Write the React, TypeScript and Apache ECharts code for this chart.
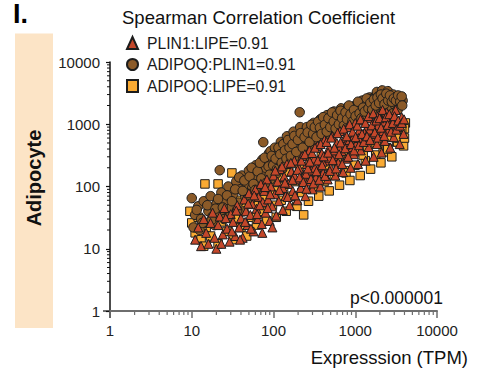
import React, { useEffect, useRef } from 'react';
import * as echarts from 'echarts';

const FONT = "'Liberation Sans', Arial, Helvetica, sans-serif";

const panelLabel = 'I.';
const rowLabel = 'Adipocyte';
const legendTitle = 'Spearman Correlation Coefficient';
const seriesNames = ['PLIN1:LIPE=0.91', 'ADIPOQ:PLIN1=0.91', 'ADIPOQ:LIPE=0.91'];
const seriesColors = ['#c4472a', '#8b5a28', '#f9aa33'];
const pValueText = 'p<0.000001';
const xAxisTitle = 'Expresssion (TPM)';
const axisMin = 1;
const axisMax = 10000;

// PLIN1 vs LIPE (triangles)
const plin1Lipe: number[][] = [
  [11, 14], [12, 22], [13, 11], [14, 30], [15, 18], [16, 12], [17, 26], [18, 38], [19, 15], [20, 10],
  [21, 24], [22, 33], [24, 17], [25, 45], [27, 21], [29, 13], [30, 36], [32, 27], [34, 16], [36, 50],
  [38, 22], [40, 31], [42, 15], [44, 62], [46, 40], [48, 24], [50, 78], [52, 35], [55, 52], [57, 19],
  [60, 90], [62, 44], [64, 30], [66, 68], [70, 110], [72, 25], [74, 56], [77, 85], [80, 38], [83, 130],
  [86, 62], [90, 28], [93, 100], [96, 48], [100, 150], [104, 75], [108, 34], [112, 120], [116, 58], [120, 190],
  [125, 90], [130, 42], [135, 145], [140, 70], [146, 230], [152, 110], [158, 50], [165, 175], [172, 85], [180, 260],
  [188, 130], [196, 60], [205, 200], [215, 95], [225, 310], [235, 150], [245, 70], [255, 230], [265, 120], [275, 380],
  [290, 180], [300, 90], [315, 280], [330, 140], [345, 450], [360, 210], [375, 100], [390, 340], [405, 165], [420, 560],
  [440, 260], [460, 130], [480, 420], [500, 200], [520, 650], [545, 310], [570, 150], [595, 500], [620, 240], [650, 780],
  [680, 370], [710, 170], [740, 600], [770, 280], [800, 900], [840, 430], [880, 200], [920, 700], [960, 330], [1000, 1050],
  [1040, 500], [1080, 230], [1120, 800], [1170, 380], [1220, 1150], [1280, 560], [1340, 260], [1400, 900], [1460, 430], [1530, 1250],
  [1600, 640], [1680, 300], [1760, 1000], [1840, 480], [1920, 1400], [2010, 720], [2100, 350], [2200, 1100], [2300, 540], [2420, 1550],
  [2550, 800], [2680, 420], [2820, 1200], [2960, 620], [3120, 1700], [3300, 900], [3500, 480], [3700, 1300], [3900, 700],
  [130, 95], [180, 150], [250, 160], [320, 200], [400, 250], [480, 290], [560, 380], [650, 420], [760, 470], [850, 560],
  [950, 620], [1100, 600], [1300, 720], [1500, 820], [1700, 700], [1900, 950], [2200, 780], [2600, 980],
  [105, 180], [118, 88], [127, 210], [138, 115], [149, 68], [163, 240], [171, 128], [183, 72], [197, 185], [208, 140],
  [219, 260], [231, 118], [242, 330], [253, 92], [263, 195], [278, 250], [287, 132], [297, 345], [308, 112], [322, 420],
  [336, 176], [349, 262], [363, 128], [378, 480], [393, 220], [411, 305], [427, 148], [446, 520], [465, 350], [488, 178],
  [507, 610], [531, 265], [556, 420], [583, 195], [607, 720], [634, 330], [662, 510], [693, 230], [722, 850], [754, 410],
  [786, 640], [818, 300], [853, 1000], [889, 480], [928, 760], [967, 380], [1010, 620], [1060, 950], [1110, 460], [1160, 1200],
  [1210, 700], [1270, 520], [1330, 1050], [1390, 640], [1450, 1350], [1520, 560], [1590, 960], [1660, 1500], [1730, 740], [1810, 1150],
  [1890, 610], [1980, 1250], [2070, 880], [2160, 1700], [2260, 650], [2370, 1300], [2490, 980], [2610, 1450], [2740, 760], [2880, 1050],
  [3020, 1350], [3180, 820], [3350, 1150], [3530, 950], [3720, 1050], [3950, 1200],
  [23, 12], [26, 31], [31, 19], [35, 41], [39, 14], [45, 27], [49, 53], [53, 21], [58, 72], [63, 36],
  [68, 50], [73, 18], [79, 98], [85, 45], [91, 75], [97, 22],
];

// ADIPOQ vs PLIN1 (circles)
const adipoqPlin1: number[][] = [
  [10, 65], [10.5, 22], [11, 35], [12, 48], [12.5, 20], [13, 30], [14, 58], [15, 26], [16, 40], [17, 70],
  [18, 33], [19, 24], [20, 52], [22, 183], [22, 38], [23, 80], [25, 30], [26, 60], [28, 100], [30, 45],
  [32, 75], [35, 120], [37, 55], [39, 90], [41, 150], [43, 40], [45, 70], [47, 110], [50, 180], [52, 60],
  [55, 95], [58, 140], [61, 220], [63, 80], [66, 120], [70, 180], [73, 270], [75, 515], [76, 100], [80, 160],
  [84, 240], [88, 340], [92, 370], [92, 130], [96, 200], [100, 300], [104, 420], [108, 160], [113, 250], [118, 360],
  [123, 520], [128, 190], [134, 300], [140, 440], [146, 640], [152, 230], [160, 360], [168, 530], [176, 760], [184, 280],
  [193, 430], [202, 640], [209, 1560], [212, 900], [222, 330], [232, 500], [244, 760], [256, 900], [268, 400], [282, 600],
  [296, 850], [310, 1050], [325, 480], [340, 720], [358, 1000], [375, 1200], [392, 570], [410, 850], [430, 1150], [452, 1400],
  [475, 660], [500, 1000], [525, 1300], [550, 1600], [580, 780], [610, 1150], [640, 1500], [672, 1800], [705, 900], [740, 1350],
  [780, 1700], [820, 1900], [860, 1000], [905, 1500], [950, 1850], [1000, 2000], [1050, 1150], [1100, 1700], [1160, 2200], [1220, 2400],
  [1280, 1300], [1350, 1900], [1420, 2400], [1500, 2700], [1580, 1450], [1660, 2100], [1750, 2800], [1840, 3300], [1930, 1600], [2030, 2300],
  [2140, 3500], [2250, 1750], [2370, 2500], [2500, 3400], [2630, 1900], [2770, 2700], [2920, 3000], [3080, 2000], [3250, 2800], [3420, 2200],
  [3600, 2600], [3800, 2400], [2000, 1200], [2400, 1400], [2900, 1500], [3300, 1700],
  [150, 320], [250, 600], [350, 800], [450, 1000], [550, 1200], [650, 1400], [800, 1600], [950, 1800], [1150, 2000], [1350, 2200],
  [1600, 2500], [1900, 2800], [700, 1100], [900, 1300], [1200, 1600], [400, 700], [300, 550], [200, 420], [120, 260], [80, 200], [60, 150],
  [11.5, 42], [13.5, 26], [15.5, 50], [17.5, 29], [19.5, 44], [21, 63], [24, 46], [27, 72], [29, 33], [31, 58],
  [34, 90], [36, 42], [38, 140], [42, 85], [44, 125], [48, 62], [51, 145], [54, 200], [57, 110], [60, 88],
  [64, 175], [68, 240], [71, 135], [78, 290], [82, 115], [87, 210], [90, 155], [95, 310], [99, 220], [106, 280],
  [110, 190], [115, 420], [121, 330], [126, 240], [132, 480], [138, 380], [144, 280], [151, 560], [157, 420], [163, 310],
  [171, 480], [180, 650], [190, 360], [199, 560], [215, 720], [228, 420], [240, 620], [262, 740], [276, 520], [290, 980],
  [305, 700], [320, 900], [336, 620], [352, 1100], [370, 880], [388, 700], [405, 1300], [425, 980], [448, 760], [470, 1250],
  [495, 900], [520, 1550], [545, 1100], [575, 850], [600, 1400], [630, 1000], [660, 1650], [690, 1250], [725, 950], [760, 1550],
  [795, 1200], [835, 2000], [875, 1450], [920, 1100], [965, 1700], [1010, 1350], [1080, 2300], [1130, 1500], [1190, 1250], [1250, 1850],
  [1310, 1600], [1380, 2600], [1450, 1800], [1530, 2200], [1610, 1700], [1690, 2500], [1780, 2000], [1870, 2700], [1960, 2200], [2060, 3000],
  [2160, 2600], [2280, 2100], [2400, 3100], [2530, 2400], [2660, 2900], [2800, 2300], [2960, 2600], [3150, 2400], [3350, 2900], [3550, 2300],
  [3700, 2800], [3750, 2000],
];

// ADIPOQ vs LIPE (squares)
const adipoqLipe: number[][] = [
  [9.5, 40], [10, 26], [11, 18], [12, 32], [13, 14], [14, 11], [14.5, 110], [15, 22], [16, 45], [17, 16],
  [19, 35], [21, 110], [21, 12], [23, 27], [25, 52], [27, 19], [29, 38], [31, 165], [32, 14], [34, 30],
  [37, 60], [40, 22], [43, 45], [47, 16], [50, 80], [54, 32], [58, 55], [62, 24], [67, 100], [72, 40],
  [77, 70], [83, 28], [90, 120], [97, 50], [105, 85], [108, 32], [115, 140], [124, 60], [133, 100], [143, 40],
  [154, 170], [166, 70], [179, 120], [193, 48], [208, 210], [222, 80], [234, 35], [250, 140], [268, 58], [288, 250],
  [310, 100], [333, 170], [358, 70], [385, 300], [415, 120], [446, 210], [480, 85], [516, 360], [555, 150], [597, 250],
  [642, 105], [690, 430], [742, 180], [770, 165], [800, 300], [860, 125], [925, 520], [995, 220], [1070, 360], [1150, 150],
  [1240, 620], [1330, 260], [1430, 430], [1540, 190], [1660, 750], [1780, 320], [1920, 520], [2060, 240], [2200, 360], [2220, 900],
  [2400, 420], [2600, 620], [2800, 300], [3000, 1000], [3200, 520], [3300, 520], [3450, 780], [3600, 1040], [3800, 700], [3900, 450],
  [4100, 1050], [4000, 850], [1250, 320], [1800, 500], [2500, 400], [3100, 700], [3400, 600], [3700, 850], [4000, 600], [2900, 820],
  [600, 300], [900, 400],
];

const minorMultipliers = [2, 3, 4, 5, 6, 7, 8, 9];
const decades = [1, 10, 100, 1000];

export default function App() {
  const ref = useRef<HTMLDivElement>(null);

  useEffect(() => {
    const el = ref.current;
    if (!el) return;
    const chart = echarts.init(el, null, { renderer: 'svg', width: 482, height: 371 });

    const fmt = (v: number) => String(Math.round(v));
    const border = { borderColor: '#1c1c1c', borderWidth: 1, opacity: 1 };

    chart.setOption({
      animation: false,
      backgroundColor: '#ffffff',
      textStyle: { fontFamily: FONT },
      grid: { left: 110, right: 45, top: 62, bottom: 60, containLabel: false },
      legend: {
        orient: 'vertical',
        left: 121,
        top: 30,
        itemWidth: 11,
        itemHeight: 12,
        itemGap: 5.5,
        data: seriesNames,
        textStyle: { fontFamily: FONT, fontSize: 15.7, color: '#1a1a1a', lineHeight: 16, padding: [0, 0, 0, 4] },
      },
      xAxis: {
        type: 'log',
        logBase: 10,
        min: axisMin,
        max: axisMax,
        splitLine: { show: false },
        axisLine: { show: true, lineStyle: { color: '#6e6e6e', width: 2 } },
        axisTick: { show: true, inside: false, length: 7, lineStyle: { color: '#6e6e6e', width: 1.5 } },
        axisLabel: { fontFamily: FONT, fontSize: 15, color: '#222', margin: 12, formatter: fmt },
      },
      yAxis: {
        type: 'log',
        logBase: 10,
        min: axisMin,
        max: axisMax,
        splitLine: { show: false },
        axisLine: { show: true, lineStyle: { color: '#111', width: 1.5 } },
        axisTick: { show: true, inside: false, length: 4, lineStyle: { color: '#111', width: 1.2 } },
        axisLabel: { fontFamily: FONT, fontSize: 15, color: '#222', margin: 10, formatter: fmt },
      },
      series: [
        {
          name: seriesNames[2], type: 'scatter', symbol: 'rect', symbolSize: 8.5,
          itemStyle: { color: seriesColors[2], ...border }, data: adipoqLipe, z: 2,
        },
        {
          name: seriesNames[1], type: 'scatter', symbol: 'circle', symbolSize: 9.5,
          itemStyle: { color: seriesColors[1], ...border }, data: adipoqPlin1, z: 3,
        },
        {
          name: seriesNames[0], type: 'scatter', symbol: 'triangle', symbolSize: 9,
          itemStyle: { color: seriesColors[0], ...border }, data: plin1Lipe, z: 4,
        },
      ],
    });

    const ox = chart.convertToPixel({ xAxisIndex: 0 }, axisMin) as number;
    const oy = chart.convertToPixel({ yAxisIndex: 0 }, axisMin) as number;

    const elements: any[] = [
      { type: 'rect', shape: { x: 15, y: 33.5, width: 38, height: 294.5 }, style: { fill: '#fce4c6' }, z: 0 },
      {
        type: 'text', x: 34, y: 178, rotation: Math.PI / 2,
        style: { text: rowLabel, fontFamily: FONT, fontSize: 20, fontWeight: 'bold', fill: '#111', align: 'center', verticalAlign: 'middle' },
      },
      {
        type: 'text', x: 13, y: 0,
        style: { text: panelLabel, fontFamily: FONT, fontSize: 27, fontWeight: 'bold', fill: '#000', align: 'left', verticalAlign: 'top' },
      },
      {
        type: 'text', x: 122, y: 17,
        style: { text: legendTitle, fontFamily: FONT, fontSize: 18.5, fill: '#111', align: 'left', verticalAlign: 'middle' },
      },
      {
        type: 'text', x: 443, y: 297.5,
        style: { text: pValueText, fontFamily: FONT, fontSize: 17.5, fill: '#111', align: 'right', verticalAlign: 'middle' },
      },
      {
        type: 'text', x: 468, y: 357,
        style: { text: xAxisTitle, fontFamily: FONT, fontSize: 18.5, fill: '#111', align: 'right', verticalAlign: 'middle' },
      },
      { type: 'line', shape: { x1: ox, y1: oy, x2: ox, y2: oy + 7 }, style: { stroke: '#111', lineWidth: 1.5 } },
      { type: 'line', shape: { x1: ox - 7, y1: oy, x2: ox, y2: oy }, style: { stroke: '#6e6e6e', lineWidth: 2 } },
    ];

    decades.forEach((d) => {
      minorMultipliers.forEach((m) => {
        const v = m * d;
        const px = chart.convertToPixel({ xAxisIndex: 0 }, v) as number;
        const py = chart.convertToPixel({ yAxisIndex: 0 }, v) as number;
        elements.push({ type: 'line', shape: { x1: px, y1: oy, x2: px, y2: oy + 4 }, style: { stroke: '#6e6e6e', lineWidth: 1.2 } });
        elements.push({ type: 'line', shape: { x1: ox - 3, y1: py, x2: ox, y2: py }, style: { stroke: '#111', lineWidth: 1 } });
      });
    });

    chart.setOption({ graphic: { elements } });

    return () => chart.dispose();
  }, []);

  return (
    <div
      ref={ref}
      style={{ position: 'fixed', left: 0, top: 0, width: 482, height: 371, background: '#fff' }}
    />
  );
}
